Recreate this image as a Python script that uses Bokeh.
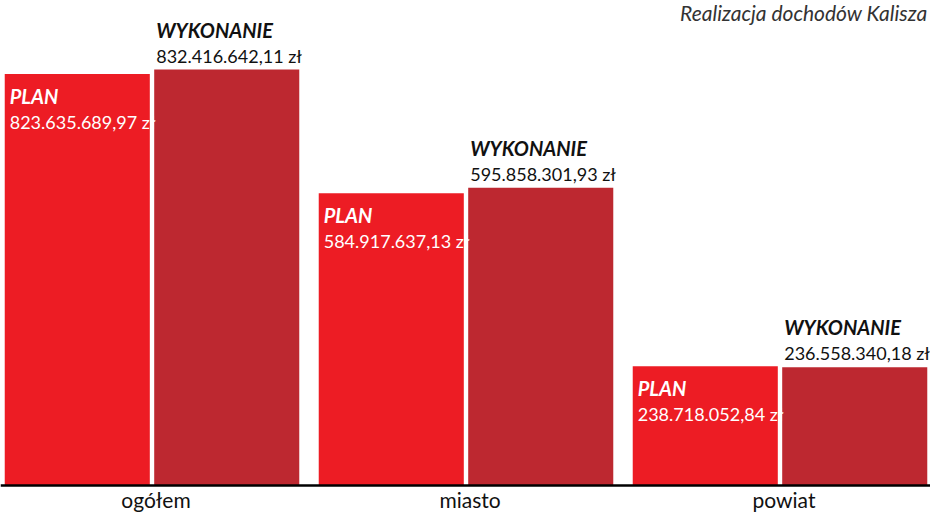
import numpy as np
from bokeh.plotting import figure
from bokeh.models import Range1d, Span, ColumnDataSource
from bokeh.core.properties import value
from bokeh.embed import file_html
from bokeh.resources import INLINE

# ---- data ----
categories = ["ogółem", "miasto", "powiat"]
plan = [823635689.97, 584917637.13, 238718052.84]
wykonanie = [832416642.11, 595858301.93, 236558340.18]
plan_labels = ["823.635.689,97 zł", "584.917.637,13 zł", "238.718.052,84 zł"]
wyk_labels = ["832.416.642,11 zł", "595.858.301,93 zł", "236.558.340,18 zł"]
series_names = ["PLAN", "WYKONANIE"]
title_text = "Realizacja dochodów Kalisza"

FONT = "Lato"
PLAN_COLOR = "#ED1C24"
WYK_COLOR = "#BD2830"

W, H = 930, 512
BAR_W = 0.462
OFF = 0.238
DY = -7  # correction for rendered baseline

idx = np.arange(len(categories), dtype=float)

p = figure(width=W, height=H, output_backend="svg", toolbar_location=None,
           x_axis_location=None, y_axis_location=None,
           min_border=0, min_border_left=0, min_border_right=0,
           min_border_top=0, min_border_bottom=0)
p.outline_line_color = None
p.grid.visible = False
p.background_fill_color = "white"
p.border_fill_color = "white"

p.x_range = Range1d(-0.4825, 2.4793)
p.y_range = Range1d(-54.0e6, 970.5e6)

plan_src = ColumnDataSource(dict(x=idx - OFF, left=idx - OFF - BAR_W / 2, top=plan,
                                 lab=plan_labels, name=[series_names[0]] * 3))
wyk_src = ColumnDataSource(dict(x=idx + OFF, left=idx + OFF - BAR_W / 2, top=wykonanie,
                                lab=wyk_labels, name=[series_names[1]] * 3))

p.vbar(x="x", top="top", bottom=0, width=BAR_W, source=plan_src,
       fill_color=PLAN_COLOR, line_color=None)
p.vbar(x="x", top="top", bottom=0, width=BAR_W, source=wyk_src,
       fill_color=WYK_COLOR, line_color=None)

# baseline
p.add_layout(Span(location=0, dimension="width", line_color="black", line_width=2.5))

# PLAN labels (inside bar, white)
p.text(x="left", y="top", text="name", source=plan_src, x_offset=5, y_offset=29 + DY,
       text_font=value(FONT), text_font_style="bold italic", text_font_size="20px",
       text_color="white", text_baseline="alphabetic", text_align="left")
p.text(x="left", y="top", text="lab", source=plan_src, x_offset=5, y_offset=55 + DY,
       text_font=value(FONT), text_font_size="18px",
       text_color="white", text_baseline="alphabetic", text_align="left")

# WYKONANIE labels (above bar, black)
p.text(x="left", y="top", text="name", source=wyk_src, x_offset=2, y_offset=-33 + DY,
       text_font=value(FONT), text_font_style="bold italic", text_font_size="20px",
       text_color="#111111", text_baseline="alphabetic", text_align="left")
p.text(x="left", y="top", text="lab", source=wyk_src, x_offset=2, y_offset=-7 + DY,
       text_font=value(FONT), text_font_size="18px",
       text_color="#111111", text_baseline="alphabetic", text_align="left")

# category labels
p.text(x=idx, y=[0] * 3, text=categories, x_offset=4, y_offset=21 + DY,
       text_font=value(FONT), text_font_size="21px", text_color="#111111",
       text_baseline="alphabetic", text_align="center")

# title (top right)
p.text(x=[p.x_range.end], y=[p.y_range.end], text=[title_text], x_offset=-3, y_offset=19 + DY,
       text_font=value(FONT), text_font_style="italic", text_font_size="21px",
       text_color="#333333", text_baseline="alphabetic", text_align="right")

open("out.html", "w").write(file_html(p, INLINE))
